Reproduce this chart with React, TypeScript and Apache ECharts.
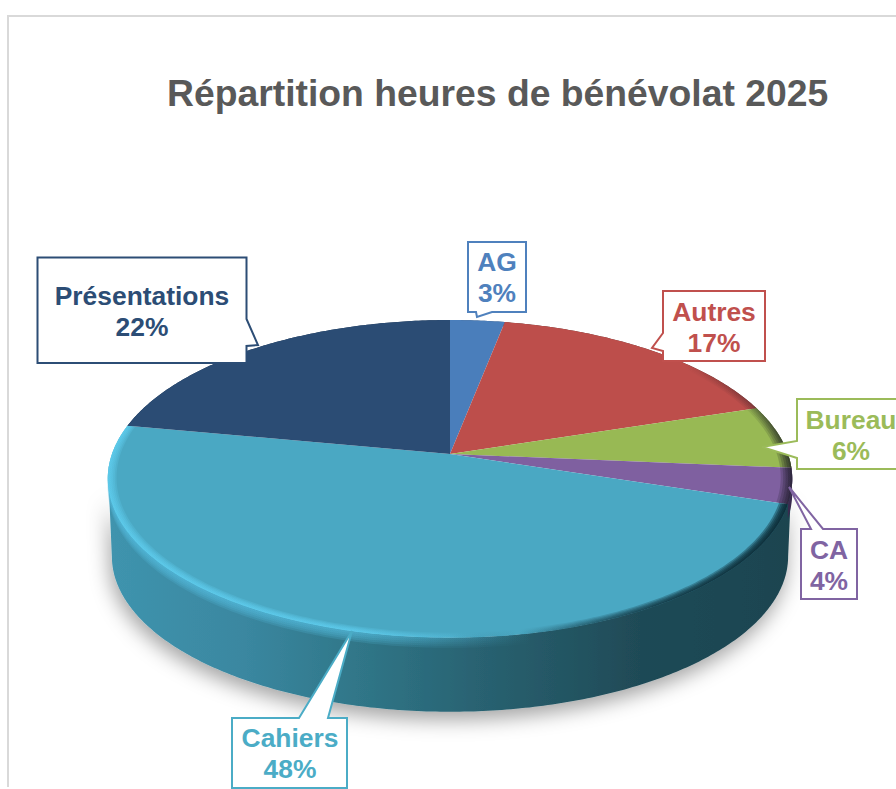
import React, { useEffect, useRef } from "react";
import * as echarts from "echarts";

const titleText = "Répartition heures de bénévolat 2025";
const categories = ["AG", "Autres", "Bureau", "CA", "Cahiers", "Présentations"];
const shares = [3, 17, 6.4, 3.6, 48, 22];
const faceColors = ["#4a7ebb", "#bd4e4b", "#98b954", "#7f60a0", "#4aa8c3", "#2b4c74"];
const labelColors = ["#4f81bd", "#c0504d", "#9bbb59", "#8064a2", "#4bacc6", "#2c4d75"];
const sideColors = ["#2c4d75", "#5a3a38", "#4c5a34", "#3a2b4f", "", "#1d3450"];

// Callout layout: [left, top, right, bottom], tail polygon points, text centre x, block centre y
const callouts: { box: number[]; tail: number[][]; edge: string; tx: number; ty: number }[] = [
  { box: [468, 242, 526, 312], tail: [[476, 312], [477, 317], [492, 312]], edge: "bottom", tx: 497, ty: 277 },
  { box: [663, 291, 765, 361], tail: [[663, 333], [652, 348], [663, 351]], edge: "left", tx: 714, ty: 327 },
  { box: [797, 399, 910, 469], tail: [[797, 441], [762, 447], [797, 458]], edge: "left", tx: 851, ty: 435 },
  { box: [801, 529, 857, 599], tail: [[811, 529], [789, 487], [823, 529]], edge: "top", tx: 829, ty: 565 },
  { box: [232, 718, 347, 788], tail: [[299, 718], [352, 631], [328, 718]], edge: "top", tx: 290, ty: 753 },
  { box: [37.5, 257.5, 246.5, 363], tail: [[246.5, 319], [258, 345], [246.5, 346]], edge: "right", tx: 142, ty: 311 },
];

const CX = 450;
const APEX_Y = 454;
const K = 0.157;
const A = 338;
const B = 155;
const WALL_OFFSET = 78;
const WALL_SCALE = 0.99;
const EDGE_ANGLE = Math.acos(-K); // angle at which the projected ellipse is widest

function project(theta: number, r: number, level: number): number[] {
  const u = Math.sin(theta) * r;
  const v = -Math.cos(theta) * r;
  const d = 1 - K * v;
  if (level === 0) return [CX + (A * u) / d, APEX_Y + (B * v) / d];
  return [CX + (A * WALL_SCALE * u) / d, APEX_Y + WALL_OFFSET + (B * 0.98 * v) / d];
}

function arc(t0: number, t1: number, r: number, level: number): number[][] {
  const n = Math.max(2, Math.ceil(Math.abs(t1 - t0) / 0.012));
  const pts: number[][] = [];
  for (let i = 0; i <= n; i++) pts.push(project(t0 + ((t1 - t0) * i) / n, r, level));
  return pts;
}

function sliceAngles(i: number): number[] {
  const total = shares.reduce((a, b) => a + b, 0);
  let before = 0;
  for (let k = 0; k < i; k++) before += shares[k];
  return [(before / total) * Math.PI * 2, ((before + shares[i]) / total) * Math.PI * 2];
}

const linear = (stops: [number, string][]) => ({
  type: "linear",
  x: 108,
  y: 0,
  x2: 792,
  y2: 0,
  global: true,
  colorStops: stops.map(([offset, color]) => ({ offset, color })),
});

const cahiersWall = linear([
  [0, "#3f94ae"],
  [0.2, "#3a87a0"],
  [0.36, "#307789"],
  [0.56, "#28606f"],
  [0.78, "#1f4a56"],
  [1, "#1c4450"],
]);

const glowFill = linear([
  [0, "rgba(85,190,225,0.2)"],
  [0.36, "rgba(85,190,225,0.2)"],
  [0.5, "rgba(85,190,225,0.08)"],
  [0.62, "rgba(85,190,225,0)"],
  [1, "rgba(85,190,225,0)"],
]);

function renderWall(params: any) {
  const i = params.dataIndex;
  const [t0, t1] = sliceAngles(i);
  const top = arc(t0, t1, 1, 0);
  const shifted = (dy: number) => [...top].reverse().map(([x, y]) => [x, y + dy]);
  if (categories[i] === "Cahiers") {
    const glow = [2, 4, 6, 8, 10].map((dy) => ({
      type: "polygon",
      shape: { points: [...top, ...shifted(dy)] },
      style: { fill: glowFill },
    }));
    return { type: "group", children: glow };
  }
  return {
    type: "polygon",
    shape: { points: [...top, ...shifted(categories[i] === "CA" ? 14 : 4)] },
    style: { fill: sideColors[i] },
  };
}

function renderBody() {
  const tR = EDGE_ANGLE;
  const tL = Math.PI * 2 - EDGE_ANGLE;
  const pts = [...arc(tR, tL, 0.998, 0), ...arc(tL, tR, 0.998, 1)];
  return {
    type: "polygon",
    shape: { points: pts },
    style: { fill: cahiersWall, shadowBlur: 20, shadowColor: "rgba(0,0,0,0.36)", shadowOffsetX: -2, shadowOffsetY: 8 },
  };
}

function renderTop(params: any) {
  const i = params.dataIndex;
  const [t0, t1] = sliceAngles(i);
  const face = {
    type: "polygon",
    shape: { points: [project(0, 0, 0), ...arc(t0, t1, 1, 0)] },
    style: { fill: faceColors[i] },
  };
  const isCahiers = categories[i] === "Cahiers";
  const rimFill = isCahiers
    ? linear([
        [0, "rgba(100,215,250,0.2)"],
        [0.36, "rgba(100,215,250,0.2)"],
        [0.5, "rgba(100,215,250,0.05)"],
        [0.6, "rgba(10,40,50,0)"],
        [0.8, "rgba(10,40,50,0.26)"],
        [1, "rgba(10,40,50,0.42)"],
      ])
    : linear([
        [0, "rgba(0,0,0,0)"],
        [0.84, "rgba(0,0,0,0)"],
        [0.94, "rgba(20,20,30,0.08)"],
        [1, "rgba(20,20,30,0.24)"],
      ]);
  const radii = isCahiers ? [0.995, 0.99, 0.985, 0.98, 0.975] : [0.995, 0.988, 0.981, 0.974, 0.967];
  const bands = radii.map((r) => ({
    type: "polygon",
    shape: { points: [...arc(t0, t1, 1, 0), ...arc(t1, t0, r, 0)] },
    style: { fill: rimFill },
  }));
  return { type: "group", children: [face, ...bands] };
}

function renderCallout(params: any, api: any) {
  const i = params.dataIndex;
  const c = callouts[i];
  const [l, t, r, b] = c.box;
  let pts: number[][];
  if (c.edge === "top") pts = [[l, t], ...c.tail, [r, t], [r, b], [l, b]];
  else if (c.edge === "right") pts = [[l, t], [r, t], ...c.tail, [r, b], [l, b]];
  else if (c.edge === "bottom") pts = [[l, t], [r, t], [r, b], ...[...c.tail].reverse(), [l, b]];
  else pts = [[l, t], [r, t], [r, b], [l, b], ...[...c.tail].reverse()];
  return {
    type: "group",
    children: [
      {
        type: "polygon",
        shape: { points: pts },
        style: { fill: "#ffffff", stroke: labelColors[i], lineWidth: 2, lineJoin: "miter" },
      },
      {
        type: "text",
        x: c.tx,
        y: c.ty,
        style: {
          text: `${categories[i]}\n${Math.round(api.value(0))}%`,
          fill: labelColors[i],
          font: 'bold 26.4px "Liberation Sans", Arial, sans-serif',
          lineHeight: 31,
          align: "center",
          verticalAlign: "middle",
        },
      },
    ],
  };
}

export default function App() {
  const ref = useRef<HTMLDivElement>(null);
  useEffect(() => {
    if (!ref.current) return;
    const chart = echarts.init(ref.current, null, { renderer: "svg" });
    const data = shares.map((v, i) => ({ name: categories[i], value: [v] }));
    const custom = (renderItem: any, z: number, d: any[] = data) => ({
      type: "custom",
      coordinateSystem: "none",
      silent: true,
      z,
      clip: false,
      data: d,
      renderItem,
    });
    chart.setOption({
      animation: false,
      backgroundColor: "#ffffff",
      title: {
        text: titleText,
        left: 167,
        top: 74,
        padding: 0,
        textStyle: {
          fontFamily: '"Liberation Sans", Arial, sans-serif',
          fontSize: 37.3,
          fontWeight: "bold",
          color: "#595959",
        },
      },
      graphic: [
        {
          type: "polyline",
          z: 0,
          shape: { points: [[896, 16], [8, 16], [8, 787]] },
          style: { stroke: "#d9d9d9", lineWidth: 2, fill: "none" },
        },
      ],
      series: [
        custom(renderBody, 2, [{ name: "corps", value: [1] }]),
        custom(renderWall, 3),
        custom(renderTop, 4),
        custom(renderCallout, 5),
      ],
    });
    return () => chart.dispose();
  }, []);
  return <div ref={ref} style={{ position: "fixed", left: 0, top: 0, width: 896, height: 789 }} />;
}
